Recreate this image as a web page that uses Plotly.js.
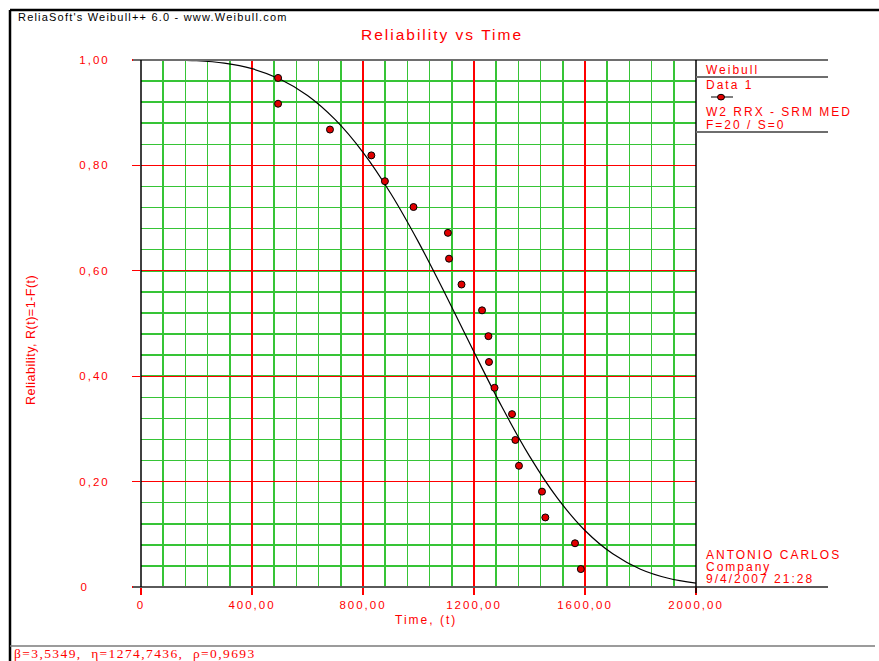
<!DOCTYPE html>
<html>
<head>
<meta charset="utf-8">
<script src="https://cdn.plot.ly/plotly-3.0.1.min.js"></script>
<style>
html, body { margin:0; padding:0; background:#fff; }
#chart { width:879px; height:661px; }
svg text { letter-spacing: 2px; }
svg text[style*="font-size: 11px"] { letter-spacing: 1.2px; }
svg text[style*="font-size: 12.5px"] { letter-spacing: 0.5px; }
svg text[style*="Serif"] { letter-spacing: 1.4px; }
</style>
</head>
<body>
<div id="chart"></div>
<script>
// ---- data ----
const pointTimes = [494, 494, 681, 830, 879, 982, 1106, 1110, 1155, 1229, 1252, 1254, 1274, 1337, 1349, 1362, 1445, 1457, 1564, 1585];
const pointRel   = [0.966, 0.917, 0.868, 0.819, 0.770, 0.721, 0.672, 0.623, 0.574, 0.525, 0.476, 0.427, 0.378, 0.328, 0.279, 0.230, 0.181, 0.132, 0.083, 0.034];
const curveTimes = [0, 100, 200, 300, 400, 500, 600, 700, 800, 900, 1000, 1100, 1200, 1300, 1400, 1500, 1600, 1700, 1800, 1900, 2000];
const curveRel   = [1.0, 0.9999, 0.9986, 0.9940, 0.9835, 0.9641, 0.9327, 0.8868, 0.8248, 0.7467, 0.6544, 0.5522, 0.4459, 0.3424, 0.2484, 0.1691, 0.1072, 0.0629, 0.0338, 0.0166, 0.0073];
const xTickVals = [0, 400, 800, 1200, 1600, 2000];
const xTickText = ['0', '400,00', '800,00', '1200,00', '1600,00', '2000,00'];
const yTickVals = [0, 0.2, 0.4, 0.6, 0.8, 1.0];
const yTickText = ['0\u00a0\u00a0\u00a0\u00a0', '0,20', '0,40', '0,60', '0,80', '1,00'];
const legendLines = ['Weibull', 'Data 1', 'W2 RRX - SRM MED', 'F=20 / S=0'];
const infoLines = ['ANTONIO CARLOS', 'Company', '9/4/2007 21:28'];
const headerText = "ReliaSoft's Weibull++ 6.0 - www.Weibull.com";
const paramText = '\u03b2=3,5349,\u00a0 \u03b7=1274,7436,\u00a0 \u03c1=0,9693';

// ---- layout helpers (pixel -> paper) ----
const L = 141, T = 60, W = 555, H = 527;
const px = x => (x - L) / W;
const py = y => (T + H - y) / H;
const FONT = 'Liberation Sans, Arial, sans-serif';
const RED = '#ff0000';
const GREEN = '#36c436';

function line(x0, y0, x1, y1, color, width) {
  return {type:'line', xref:'paper', yref:'paper', x0:px(x0), y0:py(y0), x1:px(x1), y1:py(y1),
          line:{color:color, width:width}, layer:'above'};
}
function ann(text, x, y, opts) {
  return Object.assign({text:text, xref:'paper', yref:'paper', x:px(x), y:py(y),
    xanchor:'left', yanchor:'middle', showarrow:false, borderpad:0,
    font:{family:FONT, size:12, color:RED}}, opts || {});
}

const traces = [
  {x: curveTimes, y: curveRel, type:'scatter', mode:'lines',
   line:{color:'#000', width:1.2, shape:'spline'}, hoverinfo:'skip'},
  {x: pointTimes, y: pointRel, type:'scatter', mode:'markers',
   marker:{color:'#e00000', size:7, line:{color:'#000', width:1}}}
];

const annotations = [
  ann(headerText, 17, 17, {font:{family:FONT, size:11, color:'#000'}}),
  ann(legendLines[0], 705, 70),
  ann(legendLines[1], 705, 85),
  ann(legendLines[2], 705, 112),
  ann(legendLines[3], 705, 125),
  ann(infoLines[0], 705, 555),
  ann(infoLines[1], 705, 567),
  ann(infoLines[2], 705, 578.5),
  ann('Time, (t)', 426, 620, {xanchor:'center'}),
  ann('Reliability, R(t)=1-F(t)', 31, 340, {xanchor:'center', textangle:-90, font:{family:FONT, size:12.5, color:RED}}),
  ann(paramText, 13, 653.5, {font:{family:'Liberation Serif, Times New Roman, serif', size:13.5, color:RED}})
];

const shapes = [
  line(10, 10, 879, 10, '#000', 2.5),
  line(10, 10, 10, 661, '#000', 2.5),
  line(133, 60, 828, 60, '#6e6e6e', 2),
  line(133, 587, 828, 587, '#5a5a5a', 2),
  line(141, 60, 141, 587, '#000', 1.5),
  line(696, 60, 696, 593, '#000', 1.5),
  line(696, 77, 828, 77, '#6e6e6e', 2),
  line(696, 132, 828, 132, '#6e6e6e', 2),
  line(10, 646, 875, 646, '#7a7a7a', 1.5),
  line(711, 97, 733, 97, '#000', 1),
  {type:'circle', xref:'paper', yref:'paper', x0:px(717.5), x1:px(724.5), y0:py(94.3), y1:py(100),
   fillcolor:'#e00000', line:{color:'#000', width:1}, layer:'above'}
];

const layout = {
  width: 879, height: 661,
  margin: {l: L, r: 879 - L - W, t: T, b: 661 - T - H, pad: 0},
  paper_bgcolor: '#fff', plot_bgcolor: '#fff',
  showlegend: false,
  title: {text:'Reliability vs Time', font:{family:FONT, size:15.5, color:RED},
          x: 442/879, xref:'container', xanchor:'center', y: 1 - 35/661, yref:'container', yanchor:'middle'},
  xaxis: {
    range: [0, 2000], tickmode:'array', tickvals: xTickVals, ticktext: xTickText,
    showgrid: true, gridcolor: RED, gridwidth: 1.2,
    ticks: 'outside', ticklen: 7, tickcolor: RED, tickwidth: 1.2,
    minor: {tickmode:'linear', tick0:0, dtick:80, showgrid:true, gridcolor:GREEN, gridwidth:1.5, ticks:''},
    tickfont: {family:FONT, size:11.5, color:RED},
    zeroline: false, showline: false, fixedrange: true
  },
  yaxis: {
    range: [0, 1], tickmode:'array', tickvals: yTickVals, ticktext: yTickText,
    showgrid: true, gridcolor: RED, gridwidth: 1.2,
    ticks: 'outside', ticklen: 8, tickcolor: RED, tickwidth: 1.2,
    ticklabelstandoff: 20,
    minor: {tickmode:'linear', tick0:0, dtick:0.04, showgrid:true, gridcolor:GREEN, gridwidth:1.5, ticks:''},
    tickfont: {family:FONT, size:11.5, color:RED},
    zeroline: false, showline: false, fixedrange: true
  },
  annotations: annotations,
  shapes: shapes
};

Plotly.newPlot('chart', traces, layout, {displayModeBar:false, staticPlot:true});
</script>
</body>
</html>
